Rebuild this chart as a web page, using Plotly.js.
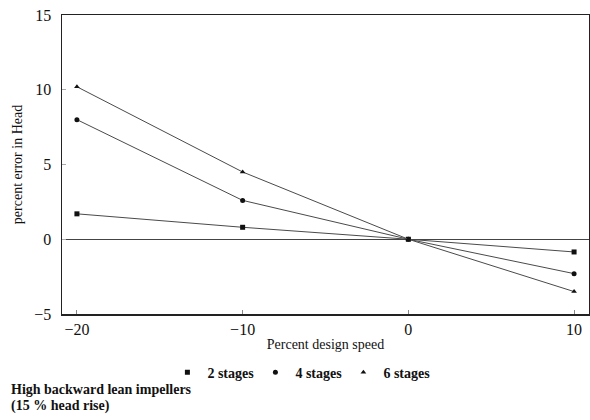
<!DOCTYPE html>
<html>
<head>
<meta charset="utf-8">
<script src="https://cdn.plot.ly/plotly-3.0.1.min.js"></script>
<style>
  html, body { margin: 0; padding: 0; background: #fff; }
  #chart { width: 590px; height: 420px; }
</style>
</head>
<body>
<div id="chart"></div>
<script>
// Percent design speed (x) and percent error in head for each stage count
const speed = [-20, -10, 0, 10];
const stages2 = [1.7, 0.8, 0, -0.85];
const stages4 = [8.0, 2.6, 0, -2.3];
const stages6 = [10.2, 4.5, 0, -3.5];

const seriesNames = ['2 stages', '4 stages', '6 stages'];
const seriesValues = [stages2, stages4, stages6];
const seriesSymbols = ['square', 'circle', 'triangle-up'];

const xTicks = [-20, -10, 0, 10];
const yTicks = [-5, 0, 5, 10, 15];

const serif = 'Liberation Serif, Times New Roman, serif';
const minus = v => (v < 0 ? '\u2212' + Math.abs(v) : String(v));

const traces = [];
seriesValues.forEach((vals, i) => {
  traces.push({
    x: speed, y: vals, type: 'scatter', mode: 'lines+markers',
    name: seriesNames[i], showlegend: false,
    line: { color: '#4a4a4a', width: 1 },
    marker: { symbol: seriesSymbols[i], size: 5, color: '#111' },
    cliponaxis: false
  });
});
// legend entries: markers only
seriesValues.forEach((vals, i) => {
  traces.push({
    x: [null], y: [null], type: 'scatter', mode: 'markers',
    name: seriesNames[i], showlegend: true,
    marker: { symbol: seriesSymbols[i], size: 5, color: '#111' }
  });
});

const layout = {
  width: 590, height: 420,
  margin: { l: 62, r: 1, t: 15, b: 106 },
  paper_bgcolor: '#fff', plot_bgcolor: '#fff',
  font: { family: serif, color: '#111', size: 14 },
  showlegend: true,
  legend: {
    orientation: 'h', x: 0.2, xanchor: 'left', y: -0.143, yanchor: 'top',
    font: { family: serif, size: 14, weight: 'bold' },
    entrywidth: 43, bgcolor: 'rgba(0,0,0,0)'
  },
  xaxis: {
    range: [-20.9, 10.9], tickvals: xTicks, ticktext: xTicks.map(minus),
    ticks: 'inside', ticklen: 4, tickcolor: '#888',
    showgrid: false, zeroline: false,
    showline: true, mirror: true, linecolor: '#222', linewidth: 1.5,
    tickfont: { family: serif, size: 16 },
    title: { text: 'Percent design speed', font: { family: serif, size: 14 }, standoff: 2 }
  },
  yaxis: {
    range: [-5, 15], tickvals: yTicks, ticktext: yTicks.map(minus),
    ticks: 'inside', ticklen: 4, tickcolor: '#aaa',
    ticklabelstandoff: 6,
    showgrid: false, zeroline: true, zerolinecolor: '#444', zerolinewidth: 1,
    showline: true, mirror: true, linecolor: '#222', linewidth: 1.5,
    tickfont: { family: serif, size: 16 },
    title: { text: 'percent error in Head', font: { family: serif, size: 14 }, standoff: 8 }
  },
  annotations: [
    {
      xref: 'paper', yref: 'paper', x: -0.1, y: -0.254, xanchor: 'left', yanchor: 'middle',
      showarrow: false, text: 'High backward lean impellers',
      font: { family: serif, size: 14, weight: 'bold' }
    },
    {
      xref: 'paper', yref: 'paper', x: -0.1, y: -0.308, xanchor: 'left', yanchor: 'middle',
      showarrow: false, text: '(15 % head rise)',
      font: { family: serif, size: 14, weight: 'bold' }
    }
  ]
};

Plotly.newPlot('chart', traces, layout, { displayModeBar: false, staticPlot: true });
</script>
</body>
</html>
